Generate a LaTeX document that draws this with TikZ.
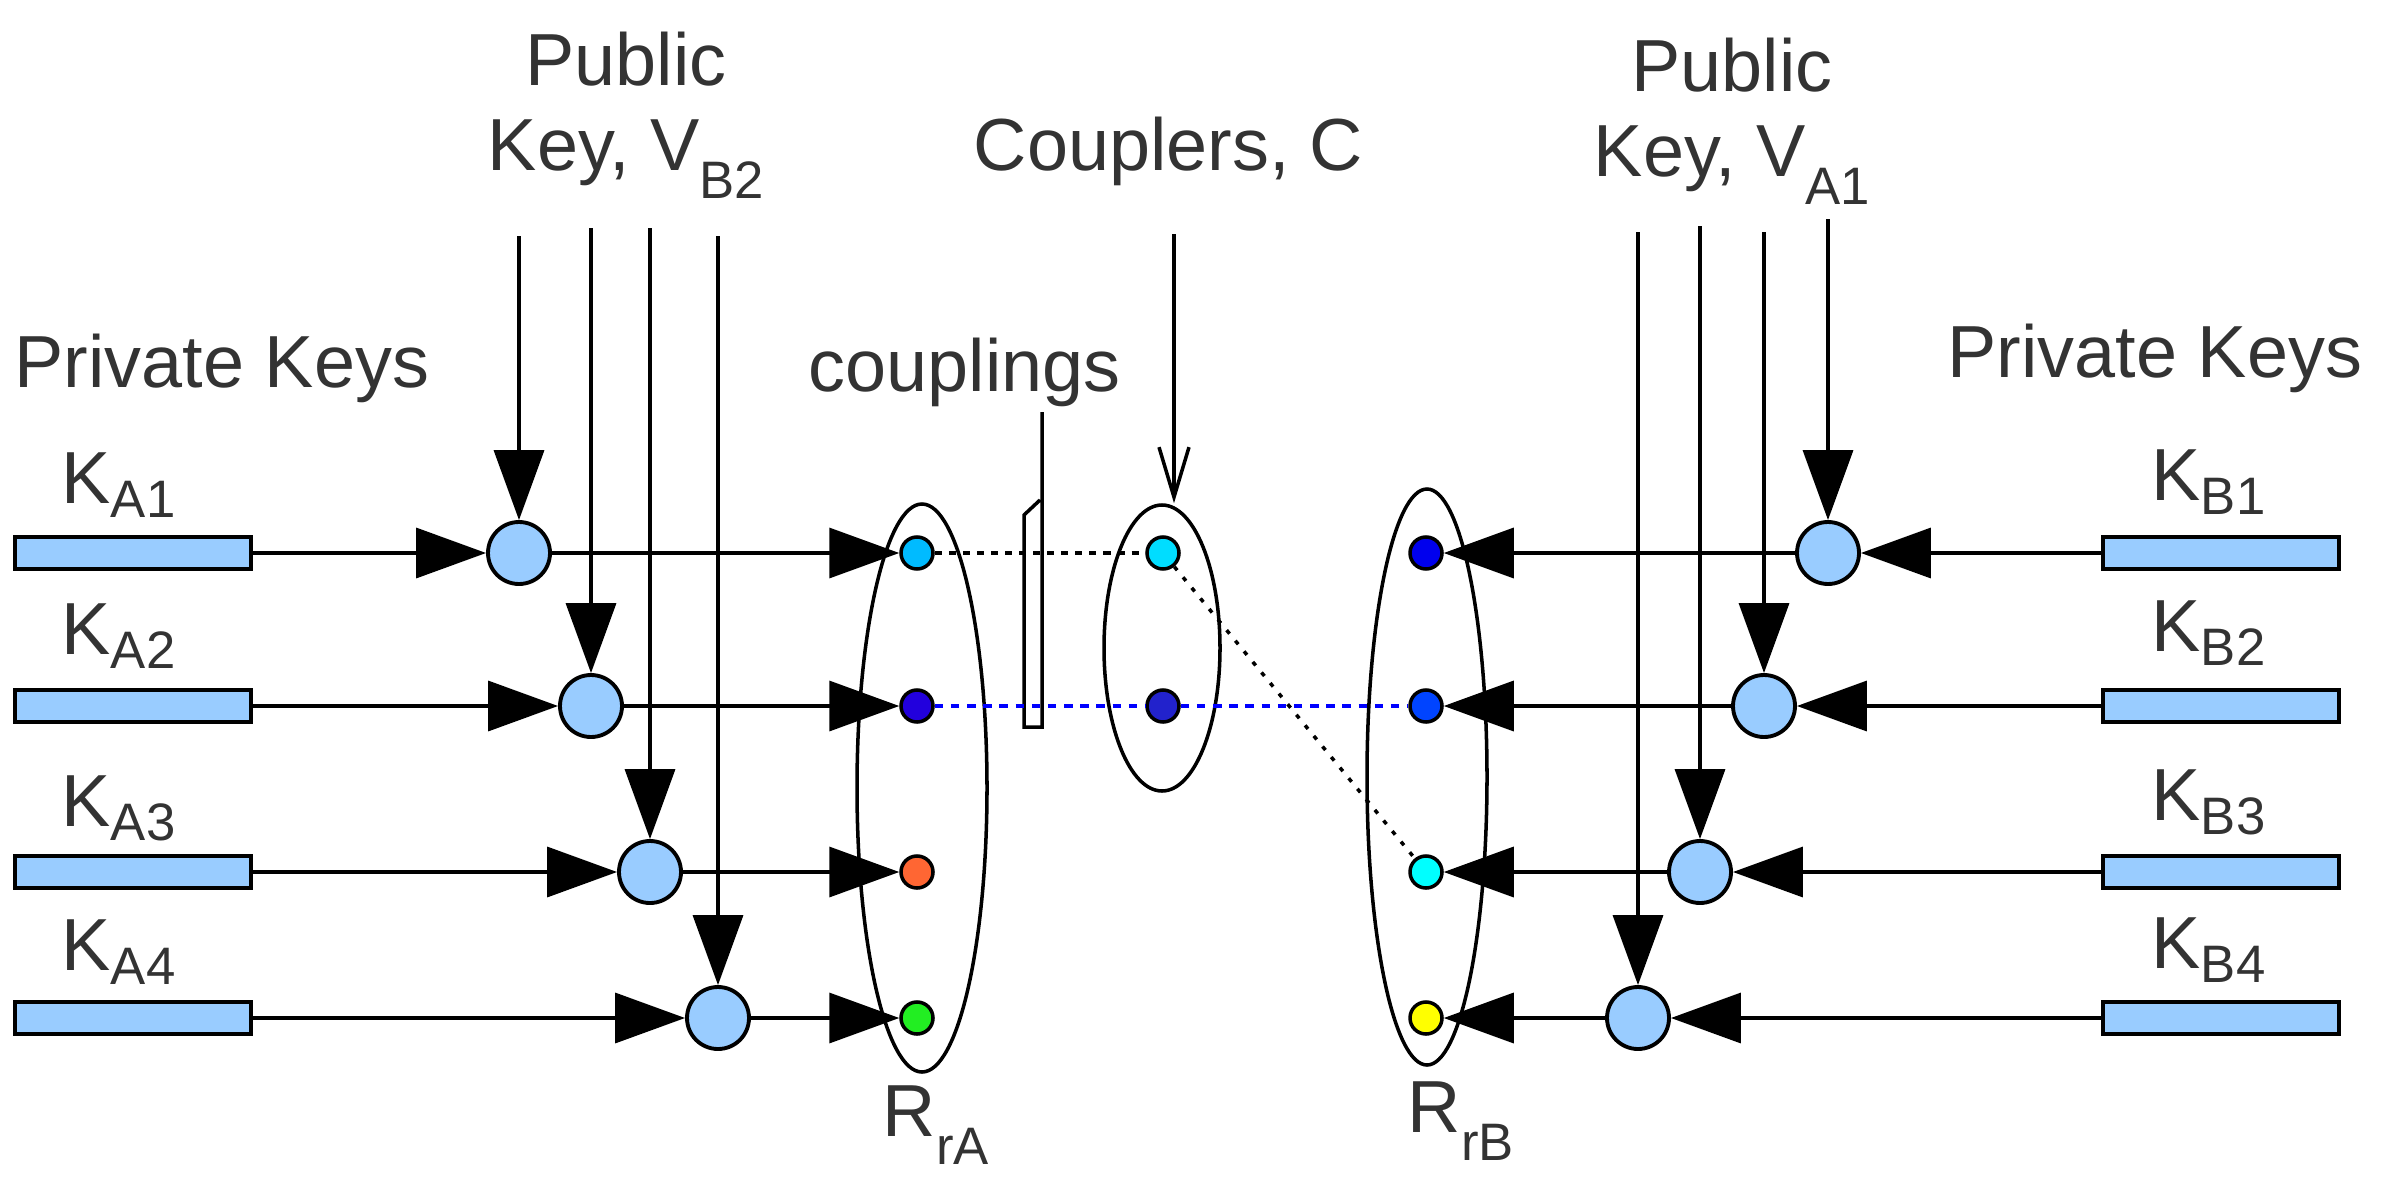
\documentclass[tikz,border=0pt]{standalone}
\usepackage{fontspec}
\setmainfont{Liberation Sans}
\usepackage{xcolor}
\definecolor{cKey}{HTML}{99CCFF}
\definecolor{cText}{HTML}{333333}
\definecolor{cLink}{HTML}{0000FF}
\definecolor{cRa1}{HTML}{00BBFF}
\definecolor{cRa2}{HTML}{2200DD}
\definecolor{cRa3}{HTML}{FF6633}
\definecolor{cRa4}{HTML}{22EE22}
\definecolor{cCp1}{HTML}{00DDFF}
\definecolor{cCp2}{HTML}{2222CC}
\definecolor{cRb1}{HTML}{0000EE}
\definecolor{cRb2}{HTML}{0044FF}
\definecolor{cRb3}{HTML}{00FFFF}
\definecolor{cRb4}{HTML}{FFFF00}
\usepackage{tikz}
\usetikzlibrary{positioning,arrows.meta,shapes.geometric}
\newcommand{\lsub}[2][4pt]{\raisebox{-#1}{\fontsize{15}{15}\selectfont #2}}
\tikzset{
  key-bar/.style={draw,line width=1.1pt,fill=cKey,minimum width=23.6mm,
    minimum height=3.2mm,inner sep=0pt},
  key-mix/.style={draw,line width=1.1pt,fill=cKey,circle,minimum size=6.2mm,
    inner sep=0pt},
  res-dot/.style={draw,line width=1pt,circle,minimum size=3.2mm,inner sep=0pt},
  res-group/.style={draw,line width=1pt,ellipse,inner sep=0pt},
  lbl/.style={font=\fontsize{21}{24}\selectfont,text=cText,inner sep=0pt},
  arrow/.style={-{Triangle[length=7mm,width=5mm]},line width=1pt},
  arrow-open/.style={-{Straight Barb[length=5mm,width=3mm]},line width=1pt},
  link-dash/.style={dash pattern=on 2pt off 2pt,line width=1pt},
  link-dot/.style={dash pattern=on 1.3pt off 2.6pt,line width=1pt},
  link-blue/.style={draw=cLink,dash pattern=on 2.4pt off 2.2pt,line width=1pt},
}

\begin{document}
\begin{tikzpicture}
  \useasboundingbox (0,0) rectangle (23.9,-11.95);
  % headings
  \node[lbl,anchor=base west] (privA) at (0.14,-3.87) {Private Keys};
  \node[lbl,anchor=base west] (privB) at (19.47,-3.77) {Private Keys};
  \node[lbl,anchor=base,align=center] (pubA) at (6.26,-1.70) {Public\\Key, V\lsub[8pt]{B2}};
  \node[lbl,anchor=base,align=center] (pubB) at (17.32,-1.76) {Public\\Key, V\lsub[8pt]{A1}};
  \node[lbl,anchor=base west] (cplr) at (9.73,-1.70) {Couplers, C};
  \node[lbl,anchor=base west] (cplg) at (8.08,-3.91) {couplings};

  % private keys, side A
  \node[key-bar] (ka1) at (1.33,-5.53) {};
  \node[key-bar] (ka2) at (1.33,-7.06) {};
  \node[key-bar] (ka3) at (1.33,-8.72) {};
  \node[key-bar] (ka4) at (1.33,-10.18) {};
  \node[lbl,anchor=base west] (lka1) at (0.61,-5.03) {K\lsub{A1}};
  \node[lbl,anchor=base west] (lka2) at (0.61,-6.54) {K\lsub{A2}};
  \node[lbl,anchor=base west] (lka3) at (0.61,-8.26) {K\lsub{A3}};
  \node[lbl,anchor=base west] (lka4) at (0.61,-9.70) {K\lsub{A4}};

  % private keys, side B
  \node[key-bar] (kb1) at (22.21,-5.53) {};
  \node[key-bar] (kb2) at (22.21,-7.06) {};
  \node[key-bar] (kb3) at (22.21,-8.72) {};
  \node[key-bar] (kb4) at (22.21,-10.18) {};
  \node[lbl,anchor=base west] (lkb1) at (21.51,-5.00) {K\lsub{B1}};
  \node[lbl,anchor=base west] (lkb2) at (21.51,-6.51) {K\lsub{B2}};
  \node[lbl,anchor=base west] (lkb3) at (21.51,-8.20) {K\lsub{B3}};
  \node[lbl,anchor=base west] (lkb4) at (21.51,-9.68) {K\lsub{B4}};

  % mixing with the public key
  \node[key-mix] (ma1) at (5.19,-5.53) {};
  \node[key-mix] (ma2) at (5.91,-7.06) {};
  \node[key-mix] (ma3) at (6.50,-8.72) {};
  \node[key-mix] (ma4) at (7.18,-10.18) {};
  \node[key-mix] (mb1) at (18.28,-5.53) {};
  \node[key-mix] (mb2) at (17.64,-7.06) {};
  \node[key-mix] (mb3) at (17.00,-8.72) {};
  \node[key-mix] (mb4) at (16.38,-10.18) {};
  \coordinate (va1) at (5.19,-2.36);
  \coordinate (va2) at (5.91,-2.28);
  \coordinate (va3) at (6.50,-2.28);
  \coordinate (va4) at (7.18,-2.36);
  \coordinate (vb1) at (18.28,-2.19);
  \coordinate (vb2) at (17.64,-2.32);
  \coordinate (vb3) at (17.00,-2.26);
  \coordinate (vb4) at (16.38,-2.32);

  % groups R_rA, C, R_rB
  \node[res-group,minimum width=13mm,minimum height=56.8mm] (grpA) at (9.22,-7.88) {};
  \node[res-group,minimum width=11.6mm,minimum height=28.6mm] (grpC) at (11.62,-6.48) {};
  \node[res-group,minimum width=12mm,minimum height=57.6mm] (grpB) at (14.27,-7.77) {};
  \node[lbl,anchor=base west] (lra) at (8.82,-11.36) {R\lsub[8pt]{rA}};
  \node[lbl,anchor=base west] (lrb) at (14.07,-11.32) {R\lsub[8pt]{rB}};

  % couplings marker
  \draw[line width=1pt] (10.42,-4.12) -- (10.42,-7.27) -- (10.24,-7.27)
    -- (10.24,-5.15) -- (10.40,-5.00);
  \coordinate (ctop) at (11.74,-2.34);
  \draw[arrow-open] (ctop) -- (ctop |- grpC.north);

  % dots
  \node[res-dot,fill=cRa1] (ra1) at (9.17,-5.53) {};
  \node[res-dot,fill=cRa2] (ra2) at (9.17,-7.06) {};
  \node[res-dot,fill=cRa3] (ra3) at (9.17,-8.72) {};
  \node[res-dot,fill=cRa4] (ra4) at (9.17,-10.18) {};
  \node[res-dot,fill=cCp1] (cp1) at (11.63,-5.53) {};
  \node[res-dot,fill=cCp2] (cp2) at (11.63,-7.06) {};
  \node[res-dot,fill=cRb1] (rb1) at (14.26,-5.53) {};
  \node[res-dot,fill=cRb2] (rb2) at (14.26,-7.06) {};
  \node[res-dot,fill=cRb3] (rb3) at (14.26,-8.72) {};
  \node[res-dot,fill=cRb4] (rb4) at (14.26,-10.18) {};

  % links between the groups
  \draw[link-dash] (ra1) -- (cp1);
  \draw[link-dot] (cp1) -- (rb3);
  \draw[link-blue] (ra2) -- (cp2) -- (rb2);

  % side A arrows
  \draw[arrow] (ka1) -- (ma1);
  \draw[arrow] (ka2) -- (ma2);
  \draw[arrow] (ka3) -- (ma3);
  \draw[arrow] (ka4) -- (ma4);
  \draw[arrow] (va1) -- (ma1);
  \draw[arrow] (va2) -- (ma2);
  \draw[arrow] (va3) -- (ma3);
  \draw[arrow] (va4) -- (ma4);
  \draw[arrow] (ma1) -- (ra1);
  \draw[arrow] (ma2) -- (ra2);
  \draw[arrow] (ma3) -- (ra3);
  \draw[arrow] (ma4) -- (ra4);

  % side B arrows
  \draw[arrow] (kb1) -- (mb1);
  \draw[arrow] (kb2) -- (mb2);
  \draw[arrow] (kb3) -- (mb3);
  \draw[arrow] (kb4) -- (mb4);
  \draw[arrow] (vb1) -- (mb1);
  \draw[arrow] (vb2) -- (mb2);
  \draw[arrow] (vb3) -- (mb3);
  \draw[arrow] (vb4) -- (mb4);
  \draw[arrow] (mb1) -- (rb1);
  \draw[arrow] (mb2) -- (rb2);
  \draw[arrow] (mb3) -- (rb3);
  \draw[arrow] (mb4) -- (rb4);
\end{tikzpicture}
\end{document}
